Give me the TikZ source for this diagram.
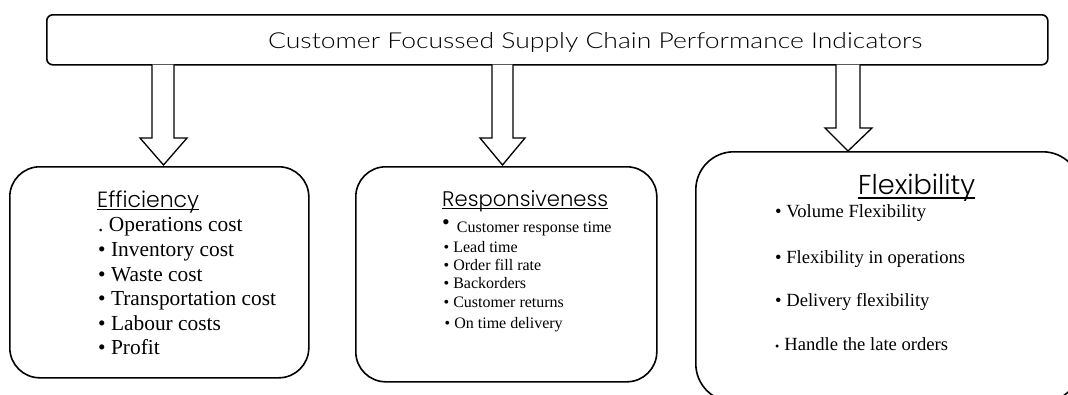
\documentclass[tikz,border=0pt]{standalone}
\usepackage{fontspec}
\setmainfont{Liberation Serif}
\newfontfamily\titlefont{Lato Light}
\newfontfamily\headfont{Poppins Light}
\usetikzlibrary{calc}
\begin{document}
\begin{tikzpicture}[x=1pt,y=-1pt,
  box/.style={draw, line width=1.6pt, rounded corners=30pt, anchor=north west, inner sep=0pt},
  blockarrow/.style={draw, line width=1.3pt, fill=white, line join=miter},
  lbl/.style={anchor=base west, inner sep=0pt},
  uline/.style={line width=1.4pt}]
\useasboundingbox (0,0) rectangle (1068,394);
\clip (0,0) rectangle (1068,394);

% title
\node[box, rounded corners=6pt, minimum width=1001pt, minimum height=50pt] (top) at (46,14) {};
\node[lbl] (tt) at (268,48.5) {\resizebox{654pt}{16pt}{\titlefont Customer Focussed Supply Chain Performance Indicators}};

% boxes
\node[box, minimum width=299pt, minimum height=211pt] (eff) at (9,166) {};
\node[box, minimum width=301pt, minimum height=215pt] (res) at (355,166) {};
\node[box, rounded corners=38pt, minimum width=385pt, minimum height=250pt] (flex) at (695,151) {};

% block arrows
\draw[blockarrow] (152,64.5) -- (152,138) -- (140,138) -- (163.5,165) -- (187,138) -- (174,138) -- (174,64.5);
\draw[blockarrow] (492,64.5) -- (492,138) -- (480,138) -- (502.5,165) -- (525,138) -- (513,138) -- (513,64.5);
\draw[blockarrow] (836,64.5) -- (836,128) -- (825,128) -- (848,151) -- (872,128) -- (860,128) -- (860,64.5);

% headings
\node[lbl] (h1) at (97,207) {\resizebox{102pt}{!}{\headfont Efficiency}};
\draw[uline] ($(h1.base west)+(0,2.5)$) -- ($(h1.base east)+(0,2.5)$);
\node[lbl] (h2) at (442,206) {\resizebox{166pt}{!}{\headfont Responsiveness}};
\draw[uline] ($(h2.base west)+(0,2.5)$) -- ($(h2.base east)+(0,2.5)$);
\node[lbl] (h3) at (858,194.5) {\resizebox{117pt}{!}{\headfont Flexibility}};
\draw[uline, line width=2.4pt] ($(h3.base west)+(0,3.5)$) -- ($(h3.base east)+(0,3.5)$);

% efficiency items
\begin{scope}[font=\fontsize{21.4}{24}\selectfont]
\node[lbl] (e1) at (98,231) {.\ Operations cost};
\node[lbl] (e2) at (98,256) {• Inventory cost};
\node[lbl] (e3) at (98,281) {• Waste cost};
\node[lbl] (e4) at (98,305.5) {• Transportation cost};
\node[lbl] (e5) at (98,330) {• Labour costs};
\node[lbl] (e6) at (98,354) {• Profit};
\end{scope}

% responsiveness items
\begin{scope}[font=\fontsize{16}{18}\selectfont]
\node[lbl] (r1) at (442,232) {{\fontsize{22}{22}\selectfont\raisebox{2.5pt}{•}}\hspace{7pt}Customer response time};
\node[lbl] (r2) at (443.5,252) {• Lead time};
\node[lbl] (r3) at (443.5,270) {• Order fill rate};
\node[lbl] (r4) at (443.5,288) {• Backorders};
\node[lbl] (r5) at (443.5,307) {• Customer returns};
\node[lbl] (r6) at (444.5,328) {• On time delivery};
\end{scope}

% flexibility items
\begin{scope}[font=\fontsize{18.6}{20}\selectfont]
\node[lbl] (f1) at (775,217) {• Volume Flexibility};
\node[lbl] (f2) at (775,263) {• Flexibility in operations};
\node[lbl] (f3) at (775,306) {• Delivery flexibility};
\node[lbl] (f4) at (775,350) {{\fontsize{12}{12}\selectfont•}\hspace{5pt}Handle the late orders};
\end{scope}
\end{tikzpicture}
\end{document}
